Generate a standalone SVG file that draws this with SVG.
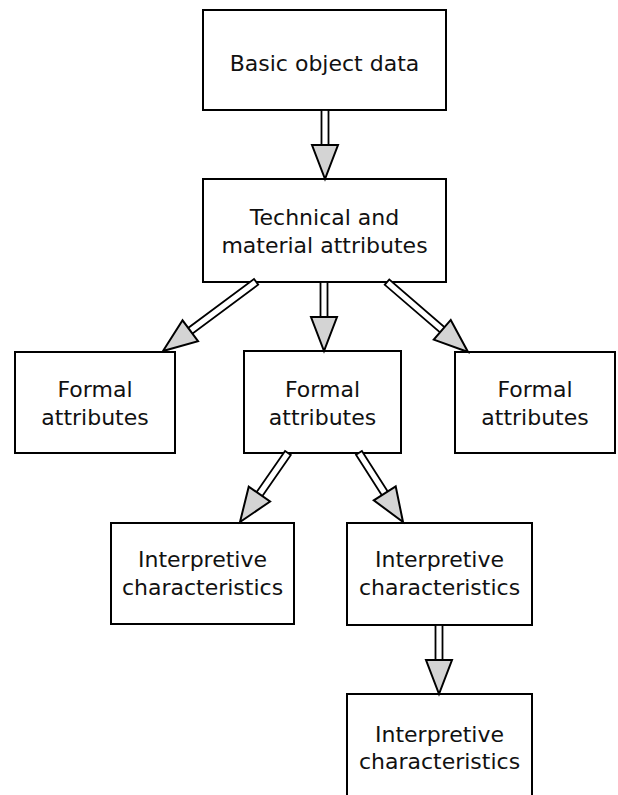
<svg xmlns="http://www.w3.org/2000/svg" width="618" height="795" viewBox="0 0 618 795">
<style>
.box{fill:#fff;stroke:#000;stroke-width:2}
.t{font-family:"DejaVu Sans",sans-serif;font-size:22px;fill:#111;text-anchor:middle}
.shaft{fill:#fff;stroke:#000;stroke-width:1.8}
.head{fill:#d4d4d4;stroke:#000;stroke-width:2;stroke-linejoin:miter}
</style>
<defs>
<polygon id="hd" class="head" points="0,0 -13,-34 13,-34"/>
</defs>
<rect width="618" height="795" fill="#fff"/>
<g id="n1"><rect class="box" x="203" y="10" width="243" height="100"/><text class="t" x="324.5" y="71">Basic object data</text></g>
<g id="n2"><rect class="box" x="203" y="179" width="243" height="103"/><text class="t" x="324.5" y="225">Technical and</text><text class="t" x="324.5" y="253">material attributes</text></g>
<g id="n3"><rect class="box" x="15" y="352" width="160" height="101"/><text class="t" x="95" y="397">Formal</text><text class="t" x="95" y="425">attributes</text></g>
<g id="n4"><rect class="box" x="244" y="351" width="157" height="102"/><text class="t" x="322.5" y="397">Formal</text><text class="t" x="322.5" y="425">attributes</text></g>
<g id="n5"><rect class="box" x="455" y="352" width="160" height="101"/><text class="t" x="535" y="397">Formal</text><text class="t" x="535" y="425">attributes</text></g>
<g id="n6"><rect class="box" x="111" y="523" width="183" height="101"/><text class="t" x="202.5" y="567">Interpretive</text><text class="t" x="202.5" y="595">characteristics</text></g>
<g id="n7"><rect class="box" x="347" y="523" width="185" height="102"/><text class="t" x="439.5" y="567">Interpretive</text><text class="t" x="439.5" y="595">characteristics</text></g>
<g id="n8"><path class="box" d="M347,800 V694 H532 V800"/><text class="t" x="439.5" y="742">Interpretive</text><text class="t" x="439.5" y="769">characteristics</text></g>
<g id="connectors">
<g transform="translate(325,179)"><rect class="shaft" x="-3.5" y="-69" width="7" height="36"/><use href="#hd"/></g>
<g transform="translate(324,351)"><rect class="shaft" x="-3.5" y="-69" width="7" height="36"/><use href="#hd"/></g>
<g transform="translate(163,351) rotate(53.4)"><rect class="shaft" x="-3.5" y="-116" width="7" height="83"/><use href="#hd"/></g>
<g transform="translate(468,352) rotate(-49.2)"><rect class="shaft" x="-3.5" y="-107" width="7" height="74"/><use href="#hd"/></g>
<g transform="translate(240,522) rotate(34.8)"><rect class="shaft" x="-3.5" y="-84" width="7" height="51"/><use href="#hd"/></g>
<g transform="translate(403,522) rotate(-32.5)"><rect class="shaft" x="-3.5" y="-82" width="7" height="49"/><use href="#hd"/></g>
<g transform="translate(439,694)"><rect class="shaft" x="-3.5" y="-69" width="7" height="36"/><use href="#hd"/></g>
</g>
</svg>
